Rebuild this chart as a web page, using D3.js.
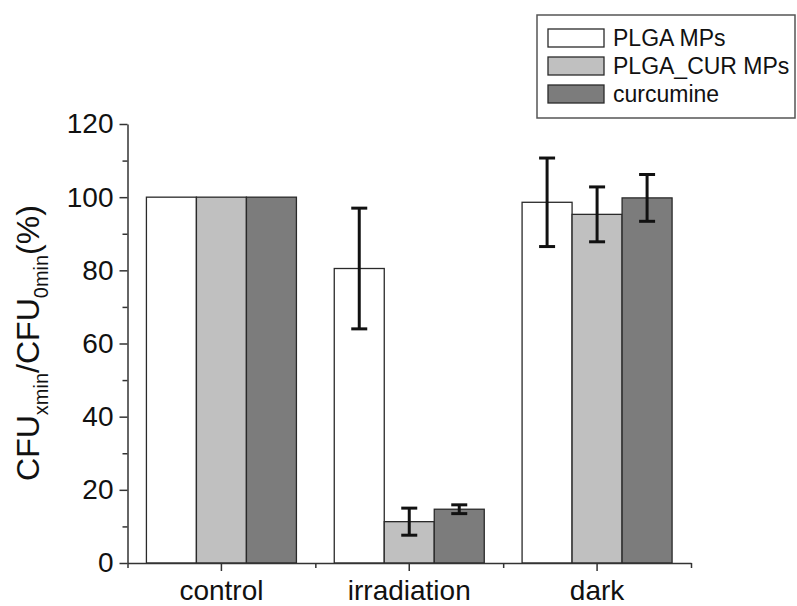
<!DOCTYPE html>
<html>
<head>
<meta charset="utf-8">
<script src="https://cdn.jsdelivr.net/npm/d3@7"></script>
<style>
  html, body { margin: 0; padding: 0; background: #fff; }
  svg text { font-family: "Liberation Sans", Arial, sans-serif; fill: #111; }
</style>
</head>
<body>
<svg id="chart" width="797" height="606"></svg>
<script>
// Treatment groups and series
const categories = ["control", "irradiation", "dark"];
const seriesNames = ["PLGA MPs", "PLGA_CUR MPs", "curcumine"];
const seriesColors = ["#ffffff", "#c0c0c0", "#7c7c7c"];

// Mean survival (%) per series, in category order
const plgaMPs    = [100, 80.5, 98.6];
const plgaCurMPs = [100, 11.3, 95.3];
const curcumine  = [100, 14.7, 99.8];

// Standard deviations (null = no error bar)
const plgaMPsErr    = [null, 16.5, 12.1];
const plgaCurMPsErr = [null, 3.7, 7.5];
const curcumineErr  = [null, 1.2, 6.4];

const yTicks = [0, 20, 40, 60, 80, 100, 120];
const yMinorTicks = [10, 30, 50, 70, 90, 110];

const values = [plgaMPs, plgaCurMPs, curcumine];
const errors = [plgaMPsErr, plgaCurMPsErr, curcumineErr];

const svg = d3.select("#chart");

const x0 = d3.scaleBand().domain(categories).range([127.5, 691]).paddingInner(0).paddingOuter(0);
const groupW = 150;
const x1 = d3.scaleBand().domain(seriesNames).range([0, groupW]).padding(0);
const y = d3.scaleLinear().domain([0, 120]).range([563, 124]);

const axisColor = "#333";

// Bars
const rows = [];
categories.forEach((c, ci) => {
  seriesNames.forEach((s, si) => {
    rows.push({ cat: c, series: s, si, value: values[si][ci], err: errors[si][ci] });
  });
});
const groupOffset = (x0.bandwidth() - groupW) / 2;

const g = svg.append("g");
g.selectAll("rect.bar").data(rows).enter().append("rect")
  .attr("class", "bar")
  .attr("x", d => x0(d.cat) + groupOffset + x1(d.series))
  .attr("y", d => y(d.value))
  .attr("width", x1.bandwidth())
  .attr("height", d => y(0) - y(d.value))
  .attr("fill", d => seriesColors[d.si])
  .attr("stroke", "#2a2a2a")
  .attr("stroke-width", 1.3);

// Error bars
const eb = rows.filter(d => d.err != null);
const capW = 16;
const cx = d => x0(d.cat) + groupOffset + x1(d.series) + x1.bandwidth() / 2;
const eg = g.selectAll("g.err").data(eb).enter().append("g").attr("class", "err")
  .attr("stroke", "#111").attr("stroke-width", 3);
eg.append("line")
  .attr("x1", cx).attr("x2", cx)
  .attr("y1", d => y(d.value + d.err)).attr("y2", d => y(d.value - d.err));
eg.append("line")
  .attr("x1", d => cx(d) - capW / 2).attr("x2", d => cx(d) + capW / 2)
  .attr("y1", d => y(d.value + d.err)).attr("y2", d => y(d.value + d.err));
eg.append("line")
  .attr("x1", d => cx(d) - capW / 2).attr("x2", d => cx(d) + capW / 2)
  .attr("y1", d => y(d.value - d.err)).attr("y2", d => y(d.value - d.err));

// Y axis
const yAxis = svg.append("g").attr("transform", `translate(${x0.range()[0]},0)`)
  .call(d3.axisLeft(y).tickValues(yTicks).tickSize(8).tickSizeOuter(0).tickPadding(6).tickFormat(d3.format("d")));
svg.append("g").attr("transform", `translate(${x0.range()[0]},0)`)
  .call(d3.axisLeft(y).tickValues(yMinorTicks).tickSize(5).tickSizeOuter(0).tickFormat(""))
  .select(".domain").remove();

// X axis
const xAxis = svg.append("g").attr("transform", `translate(0,${y(0)})`)
  .call(d3.axisBottom(x0).tickSize(8).tickSizeOuter(0).tickPadding(9));
const xMinor = d3.scaleLinear().domain([0, 3]).range(x0.range());
svg.append("g").attr("transform", `translate(0,${y(0)})`)
  .call(d3.axisBottom(xMinor).tickValues([0, 1, 2, 3]).tickSize(5).tickSizeOuter(0).tickFormat(""))
  .select(".domain").remove();

[yAxis, xAxis].forEach(a => {
  a.selectAll("path, line").attr("stroke", axisColor).attr("stroke-width", 1.5);
});
svg.selectAll(".tick line").attr("stroke", axisColor).attr("stroke-width", 1.5);
yAxis.selectAll("text").style("font-size", "28px").attr("fill", "#111");
xAxis.selectAll("text").style("font-size", "28px").attr("fill", "#111");

// Y axis title with subscripts
const yTitle = svg.append("text")
  .attr("transform", "translate(39,343) rotate(-90)")
  .attr("text-anchor", "middle")
  .style("font-size", "32px");
yTitle.append("tspan").text("CFU");
yTitle.append("tspan").text("xmin").attr("dy", 9).style("font-size", "20px");
yTitle.append("tspan").text("/CFU").attr("dy", -9);
yTitle.append("tspan").text("0min").attr("dy", 9).style("font-size", "20px");
yTitle.append("tspan").text("(%)").attr("dy", -9);

// Legend
const legend = svg.append("g");
legend.append("rect")
  .attr("x", 537).attr("y", 15).attr("width", 258).attr("height", 103)
  .attr("fill", "#fff").attr("stroke", "#555").attr("stroke-width", 1.5);
const li = legend.selectAll("g.item").data(seriesNames).enter().append("g")
  .attr("class", "item")
  .attr("transform", (d, i) => `translate(548,${29 + i * 28})`);
li.append("rect")
  .attr("width", 56).attr("height", 18)
  .attr("fill", (d, i) => seriesColors[i])
  .attr("stroke", "#2a2a2a").attr("stroke-width", 1.3);
li.append("text")
  .attr("x", 65).attr("y", 16.5)
  .style("font-size", "23px")
  .text(d => d);
</script>
</body>
</html>
